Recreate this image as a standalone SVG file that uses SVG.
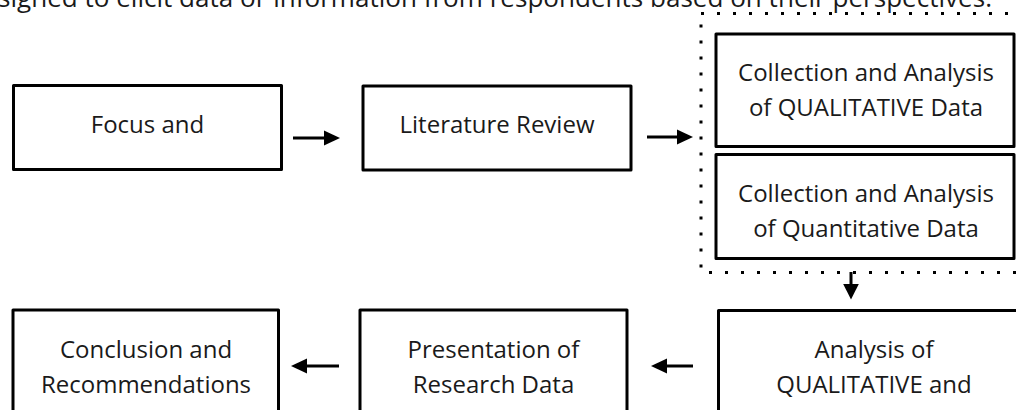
<svg xmlns="http://www.w3.org/2000/svg" width="1016" height="410" viewBox="0 0 1016 410">
<style>
.box{fill:#fff;stroke:#000;stroke-width:3;stroke-linejoin:round}
.t{font-family:"Open Sans","Noto Sans",sans-serif;font-size:24px;fill:#1a1a1a;text-anchor:middle}
.top{font-family:"Open Sans","Noto Sans",sans-serif;font-size:25px;fill:#1a1a1a}
.ln{stroke:#000;stroke-width:3;fill:none}
.dot{fill:none;stroke:#000;stroke-width:3;stroke-dasharray:3 13}
</style>
<rect width="1016" height="410" fill="#fff"/>
<text class="top" x="-2" y="6.5" textLength="994" lengthAdjust="spacingAndGlyphs">signed to elicit data or information from respondents based on their perspectives.</text>
<rect class="dot" x="701" y="13.5" width="340" height="259"/>
<g id="focus">
<rect class="box" x="13.5" y="85.5" width="268" height="84"/>
<text class="t" x="147.5" y="133">Focus and</text>
</g>
<g id="literature">
<rect class="box" x="363" y="86" width="268" height="84"/>
<text class="t" x="497" y="133">Literature Review</text>
</g>
<g id="qual">
<rect class="box" x="716" y="34" width="298" height="112.5"/>
<text class="t" x="866" y="81">Collection and Analysis</text>
<text class="t" x="866" y="115.7">of QUALITATIVE Data</text>
</g>
<g id="quant">
<rect class="box" x="716" y="154.5" width="298" height="104"/>
<text class="t" x="866" y="201.7">Collection and Analysis</text>
<text class="t" x="866" y="236.7">of Quantitative Data</text>
</g>
<g id="conclusion">
<rect class="box" x="13" y="310" width="265.5" height="120"/>
<text class="t" x="146" y="358.3">Conclusion and</text>
<text class="t" x="146" y="392.7">Recommendations</text>
</g>
<g id="presentation">
<rect class="box" x="360" y="310" width="267" height="120"/>
<text class="t" x="493.5" y="358.3">Presentation of</text>
<text class="t" x="493.5" y="392.7">Research Data</text>
</g>
<g id="analysis">
<rect class="box" x="718.5" y="310.5" width="320" height="120"/>
<text class="t" x="874" y="358.3">Analysis of</text>
<text class="t" x="874" y="392.7">QUALITATIVE and</text>
</g>
<g id="connectors">
<line class="ln" x1="293" y1="138" x2="326" y2="138"/>
<polygon points="324,130.5 340,138 324,145.5"/>
<line class="ln" x1="647" y1="137" x2="679" y2="137"/>
<polygon points="677,129.5 693,137 677,144.5"/>
<line class="ln" x1="851" y1="272" x2="851" y2="286"/>
<polygon points="843.2,284 858.8,284 851,299.5"/>
<line class="ln" x1="339" y1="366" x2="305" y2="366"/>
<polygon points="307,358.5 291,366 307,373.5"/>
<line class="ln" x1="693" y1="366" x2="665" y2="366"/>
<polygon points="667,358.5 651,366 667,373.5"/>
</g>
</svg>
